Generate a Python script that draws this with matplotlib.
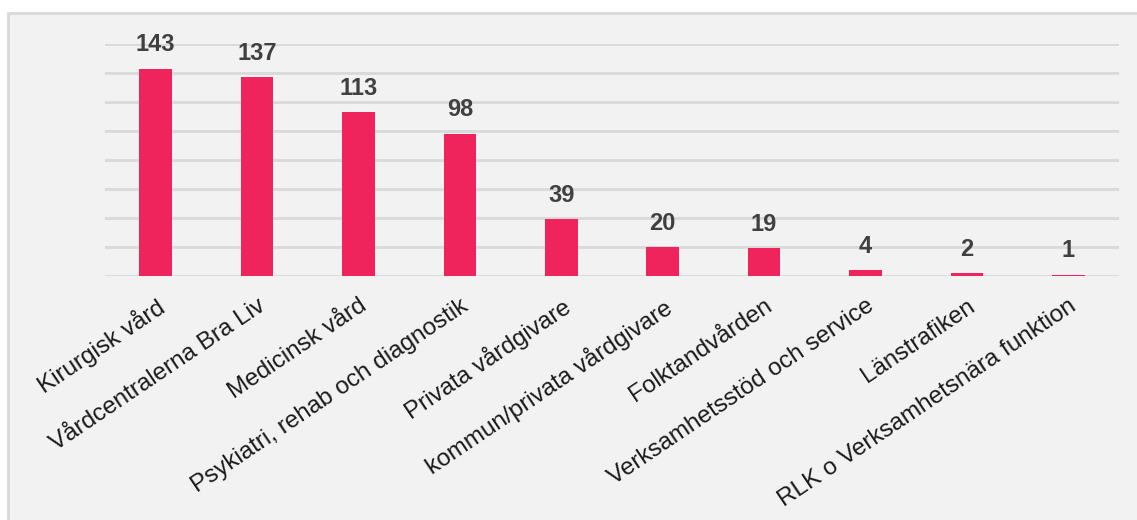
import matplotlib
matplotlib.use("Agg")
import matplotlib.pyplot as plt
from matplotlib.patches import Rectangle

categories = ["Kirurgisk vård", "Vårdcentralerna Bra Liv", "Medicinsk vård",
              "Psykiatri, rehab och diagnostik", "Privata vårdgivare",
              "kommun/privata vårdgivare", "Folktandvården",
              "Verksamhetsstöd och service", "Länstrafiken",
              "RLK o Verksamhetsnära funktion"]
values = [143, 137, 113, 98, 39, 20, 19, 4, 2, 1]

plt.rcParams['font.family'] = ['Liberation Sans', 'DejaVu Sans']

W, H = 1137, 520
fig = plt.figure(figsize=(W / 100, H / 100), dpi=100)
fig.patch.set_facecolor('white')
fig.add_artist(Rectangle((8 / W, -0.01), 1.0, 1 - 13 / H + 0.01, transform=fig.transFigure,
                         facecolor='#f2f2f2', edgecolor='#d9d9d9', linewidth=2, zorder=0))

ax = fig.add_axes([105 / W, 1 - 276 / H, (1119 - 105) / W, (276 - 44) / H])
ax.set_facecolor('none')
x = list(range(len(categories)))
bars = ax.bar(x, values, width=0.32, color='#f0245c', zorder=3)
ax.set_xlim(-0.5, len(categories) - 0.5)
ax.set_ylim(0, 160)
ax.set_yticks(range(0, 161, 20))
ax.yaxis.grid(True, color='#d9d9d9', linewidth=2)
ax.set_axisbelow(True)
ax.tick_params(axis='y', left=False, labelleft=False)
ax.tick_params(axis='x', bottom=False, pad=10)
for s in ax.spines.values():
    s.set_visible(False)
ax.set_xticks(x)
ax.set_xticklabels(categories, rotation=34, ha='right', va='top', rotation_mode='anchor',
                   fontsize=17.5, color='#1a1a1a')
for b, v in zip(bars, values):
    ax.annotate(str(v), (b.get_x() + b.get_width() / 2, v), xytext=(0, 9),
                textcoords='offset points', ha='center', va='bottom',
                fontsize=17, fontweight='bold', color='#404040')

fig.savefig('out.png', dpi=100)
